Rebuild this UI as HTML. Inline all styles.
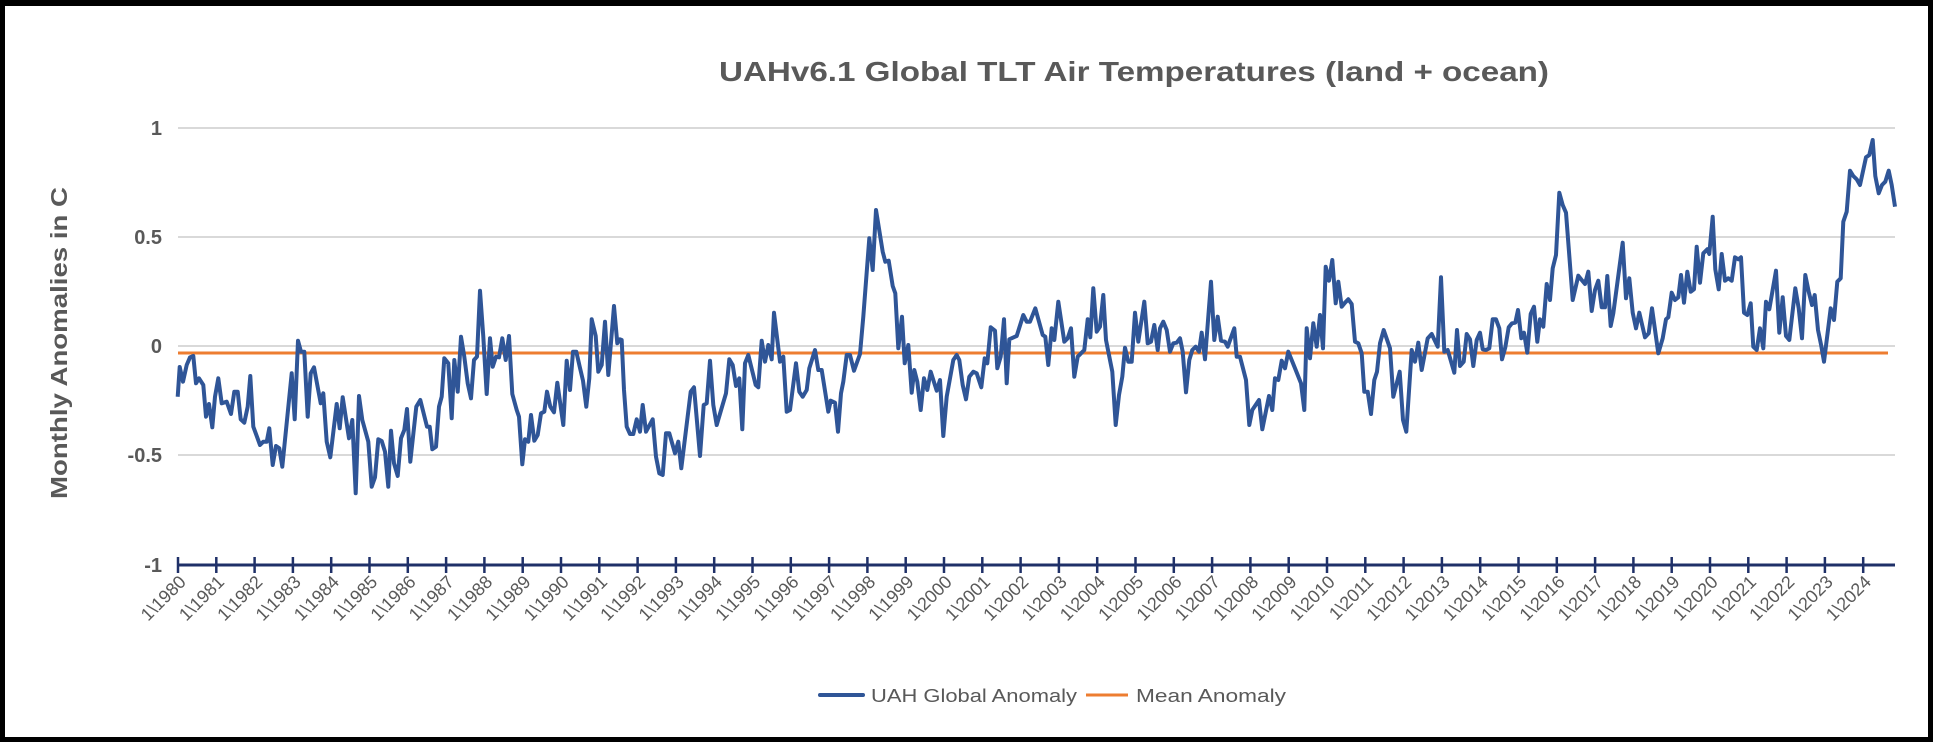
<!DOCTYPE html>
<html><head><meta charset="utf-8"><style>
html,body{margin:0;padding:0;background:#fff;}
svg{display:block;}
text{font-family:"Liberation Sans",sans-serif;fill:#595959;}
</style></head><body>
<svg width="1953" height="742" viewBox="0 0 1953 742" xmlns="http://www.w3.org/2000/svg">
<rect x="0" y="0" width="1953" height="742" fill="#fff"/>
<rect x="0" y="0" width="1933" height="742" fill="#000"/>
<rect x="5" y="6" width="1923" height="731" fill="#fff"/>
<text x="1134" y="81" text-anchor="middle" font-size="28" font-weight="bold" textLength="830" lengthAdjust="spacingAndGlyphs">UAHv6.1 Global TLT Air Temperatures (land + ocean)</text>
<text transform="translate(67,343) rotate(-90)" text-anchor="middle" font-size="23" font-weight="bold" textLength="312" lengthAdjust="spacingAndGlyphs">Monthly Anomalies in C</text>
<g stroke="#D9D9D9" stroke-width="2">
<line x1="178" y1="128" x2="1895" y2="128"/>
<line x1="178" y1="237" x2="1895" y2="237"/>
<line x1="178" y1="346" x2="1895" y2="346"/>
<line x1="178" y1="455" x2="1895" y2="455"/>
</g>
<g font-size="20" font-weight="bold" text-anchor="end">
<text x="162" y="135">1</text>
<text x="162" y="244">0.5</text>
<text x="162" y="353">0</text>
<text x="162" y="462">-0.5</text>
<text x="162" y="572">-1</text>
</g>
<line x1="178" y1="353" x2="1888" y2="353" stroke="#ED7D31" stroke-width="3"/>
<polyline fill="none" stroke="#2F5597" stroke-width="4" stroke-linejoin="round" points="177.7,396.7 179.7,367 183,381.7 186.7,365 190,357.3 193.3,356 196,383.3 199,378.3 203.3,385 206,416.7 209,404 212.3,427.3 215,396.7 218.3,378.3 221.7,403.3 226.7,401.7 231,414 234.3,391.7 237.7,391.7 240.7,419.3 244.3,422.7 247.7,406.7 250.3,376 253.3,426.7 260,445 263.3,441.7 266.7,441.7 269.3,428.3 272.7,465 276,446 279.3,448.3 282.3,466.7 291.7,373.3 294.7,419.3 298,340.7 301,351.7 304.3,351.7 307.7,416.7 310.7,373.3 314,367.3 320.7,403.3 323.3,393.3 326.7,441.7 330.3,457.3 336.7,404 339.7,428.3 342.7,397.3 349,438.3 352.3,420 355.7,493.3 359,396 362.3,420 368.3,441.7 371.7,486.7 375,477.3 378.3,439.3 381.7,441 385,451.7 388.3,486.7 391,430.7 394,463.3 397.7,476 401,438.3 404.3,430 407,409 410.3,461.7 416.3,406.7 420.3,400 427,426.7 429.7,426.7 432.3,449.3 436,446.7 439,406.7 441.7,396.7 444.3,358.3 448.3,363.3 451.7,418.3 454.3,360 457.7,391.7 461,336.7 464.3,356.7 467.7,383.3 471,398.3 474,360 477,356.7 480,290.7 483.3,336.7 486.7,394 490,338.3 492.7,366.7 496,356.7 499,357.3 502.3,338.3 505.7,360 509,336 512.3,394 516.7,410 519,416.7 522.3,464.3 525,439.3 528.3,441.7 531,415 534.3,440.7 537.7,435 541,413.3 544.3,411.7 547,391.7 550.3,406.7 554,412.3 557.3,382.7 563.3,425 566.7,360.7 570,390 573,351.7 576.3,351.7 579.7,366.7 583,380.7 586.3,406.7 589.3,378.3 591.7,319.3 595.7,336 598.3,371.7 601.7,365 605,321.7 608.3,375 614,306 617.3,343.3 620,339.3 621.7,340 624,390 626.7,426.7 630,434 633.3,434 636.7,419.3 640,431.7 642.7,405 646,431.7 652.7,419.3 656,456.7 659.3,473.3 662.7,475 666,433.3 669.3,433.3 675,453.3 678.3,441.7 681.3,468.3 690.7,391.7 694,387.3 700,456 703.7,405 706.7,403.3 710,360.7 713.3,405 716.7,425 726,393.3 729.3,359.3 732.7,365 736,386 739.3,378.3 742.3,429.3 745,363.3 748.3,355 755.7,385 758.3,387.3 761.7,340.7 765,361.7 768.3,345 771.7,359.3 774,312.7 780,361.7 783.3,356.7 786.7,411.7 790,410 796,363.3 799.3,391.7 802.7,396.7 806.7,390 809.3,368.3 815,350 818.3,370 821.7,370 828.3,411.7 830.7,400.7 835,402.7 838,431.7 841,393.3 843.3,381.7 846.7,355 850,355 854,370.7 860,354 863.3,316.7 869.3,238.3 872.7,270 876,210 882.7,251.7 885.3,261.7 888.7,260.7 892.7,286 895.3,293.3 898.3,348.3 902,316.7 904.7,363.3 908.3,345 911.7,392.7 914.3,370 917.3,381.7 920.7,410 924,378.3 927.3,390 930.7,371.7 936.7,390.7 940,380 943.3,436 946.7,396.7 953.3,360 956.7,355 959.3,360 962.7,385 966,399.3 969.3,376.7 973.3,371.7 976.7,373.3 981.3,387.3 984.7,358.3 987.3,363.3 990.7,327.3 995,330.7 997.3,368.3 1000.7,356.7 1004,319.3 1006.7,383.3 1009.3,339.3 1016.7,336 1023.3,315 1026.7,321.7 1030,321.7 1035.3,308.3 1042.7,335 1045.3,336.7 1048.3,365 1051.7,328.3 1054.3,340 1058.3,301.7 1064.3,341.7 1067.7,338.3 1071,328.3 1074.3,376.7 1077.7,356.7 1084.3,350 1087.7,319.3 1090.3,337.3 1093.3,288.3 1096.7,331.7 1100,326.7 1103.3,295 1106,340 1112.3,371.7 1115.7,425 1119,395 1122.3,376.7 1125,347.7 1128.3,361.7 1131.7,361.7 1135,312.7 1138.3,341.7 1144.3,301.7 1147.7,343.3 1151,341.7 1154.3,325 1157.7,350 1160,328.3 1163.3,321.7 1166.7,330 1170,351.7 1173.3,343.3 1176.7,342.7 1180,338.3 1182.7,351.7 1186,392.3 1189.3,360 1192.3,350 1195.7,346.7 1199,351.7 1201.7,332.7 1205,359.3 1211,281.7 1214.3,340 1217.7,316.7 1221,340.7 1225,341.7 1227.7,346.7 1234.3,328.3 1236.7,356.7 1240,356.7 1246,380 1249.3,425 1252.3,410 1259,400 1262.3,429.3 1269,396 1272.3,410 1275,378.3 1278.3,380 1281.7,360.7 1285,368.3 1288.3,351.7 1295,368.3 1301,383.3 1304.3,410 1306.7,328.3 1310,358.3 1313.3,323.3 1316.7,346.7 1320,315 1323,348.3 1325.7,266.7 1329,280.7 1332.3,260 1335.7,303.3 1338.3,281.7 1341.7,306.7 1345,302.7 1348.3,299.3 1351.7,304 1355,341.7 1358.3,343.3 1361.7,353.3 1364.3,391.7 1367.7,391.7 1371,414 1374.3,380 1377,371.7 1380,343.3 1383.7,330 1390,348.3 1393.3,396.7 1399.7,371.7 1403,420 1406.3,431.7 1411.7,350 1415,361.7 1418.3,342.7 1421.7,370 1427.7,338.3 1431.7,334 1437.7,346.7 1441,277.3 1444.3,351.7 1447.7,350 1454.3,372.7 1457,330 1460,366 1463.7,361.7 1466.7,334 1470,339.3 1473.3,366 1476.7,340 1480,332.7 1482.7,349.3 1486,350 1489.3,348.3 1492.7,319.3 1496,319.3 1499.3,328.3 1502,359.3 1505.3,347.3 1508.7,327.3 1512,323.3 1515.3,322.7 1518,310 1521.3,338.3 1524,332.7 1527.3,352.7 1530.7,314 1534,306.7 1537.3,341.7 1540,319.3 1543.3,326.7 1546.7,284 1550,300 1552.7,268.3 1556,255 1559.3,192.7 1562.7,205 1566,212.7 1572.7,300 1578.3,275.7 1581.7,280 1585,284 1588.3,271.7 1591.7,311 1595,290 1598.3,280.7 1601.7,307.3 1605,307.3 1607.3,276 1610.7,326 1613.3,313.3 1622.7,242.7 1626,298.3 1629.3,278.3 1632.7,312.7 1636,328.3 1639.3,312.7 1645,337.3 1648.7,333.3 1652,308.3 1658.3,353.3 1662.7,338.3 1666,319.3 1668.3,317.3 1671.7,292.7 1675,300 1678.3,297.3 1681,275 1684,302.7 1687.3,271.7 1690.7,291.7 1694,289.3 1696.7,246.7 1700,282.7 1703.3,253.3 1707.3,249.3 1709.3,254 1712.7,216.7 1715.3,269.3 1718.7,289.3 1721.7,254 1725,280.7 1728.3,278.3 1731.7,280.7 1735,257.3 1738.3,259.3 1741,257.3 1744,312.7 1747.3,315 1750.7,303.3 1753.3,346.7 1756.7,350 1760,328.3 1763.3,348.3 1766,301.7 1769.3,309.3 1776,270.7 1779.3,332.7 1782.7,297.3 1786,336 1789.3,340 1795.3,288.3 1798.7,308.3 1802,338.3 1805.3,275 1808.7,291.7 1812,305 1814.7,295 1818,330 1821.3,346 1824,361.7 1830.7,308.3 1834,320 1837.3,281.7 1840.7,278.3 1843.3,221.7 1846.7,211.7 1850,170.7 1853.3,176 1856.7,179.3 1860,185 1866,157.3 1869.3,155 1872.7,140 1875.3,176 1878.7,193.3 1882,185 1885.3,181.7 1888.7,170.7 1891.7,185 1895,206.7"/>
<line x1="178" y1="565" x2="1895" y2="565" stroke="#1F3068" stroke-width="3"/>
<g id="ticks" stroke="#1F3068" stroke-width="2.5"></g>
<g id="xl" font-size="18"></g>
<line x1="820" y1="695" x2="863" y2="695" stroke="#2F5597" stroke-width="4" stroke-linecap="round"/>
<text x="871" y="702" font-size="18" textLength="206" lengthAdjust="spacingAndGlyphs">UAH Global Anomaly</text>
<line x1="1086" y1="695" x2="1128" y2="695" stroke="#ED7D31" stroke-width="3"/>
<text x="1136" y="702" font-size="18" textLength="150" lengthAdjust="spacingAndGlyphs">Mean Anomaly</text>
</svg>
<script>
(function(){
var ns="http://www.w3.org/2000/svg";
var t=document.getElementById("ticks"),xl=document.getElementById("xl");
for(var k=0;k<45;k++){
 var x=178+k*38.3;
 var l=document.createElementNS(ns,"line");
 l.setAttribute("x1",x);l.setAttribute("x2",x);l.setAttribute("y1",557);l.setAttribute("y2",573);
 t.appendChild(l);
 var tx=document.createElementNS(ns,"text");
 tx.setAttribute("transform","translate("+(x+9)+",583) rotate(-45)");
 tx.setAttribute("text-anchor","end");
 tx.textContent="1\\"+(1980+k);
 xl.appendChild(tx);
}
})();
</script>
</body></html>
